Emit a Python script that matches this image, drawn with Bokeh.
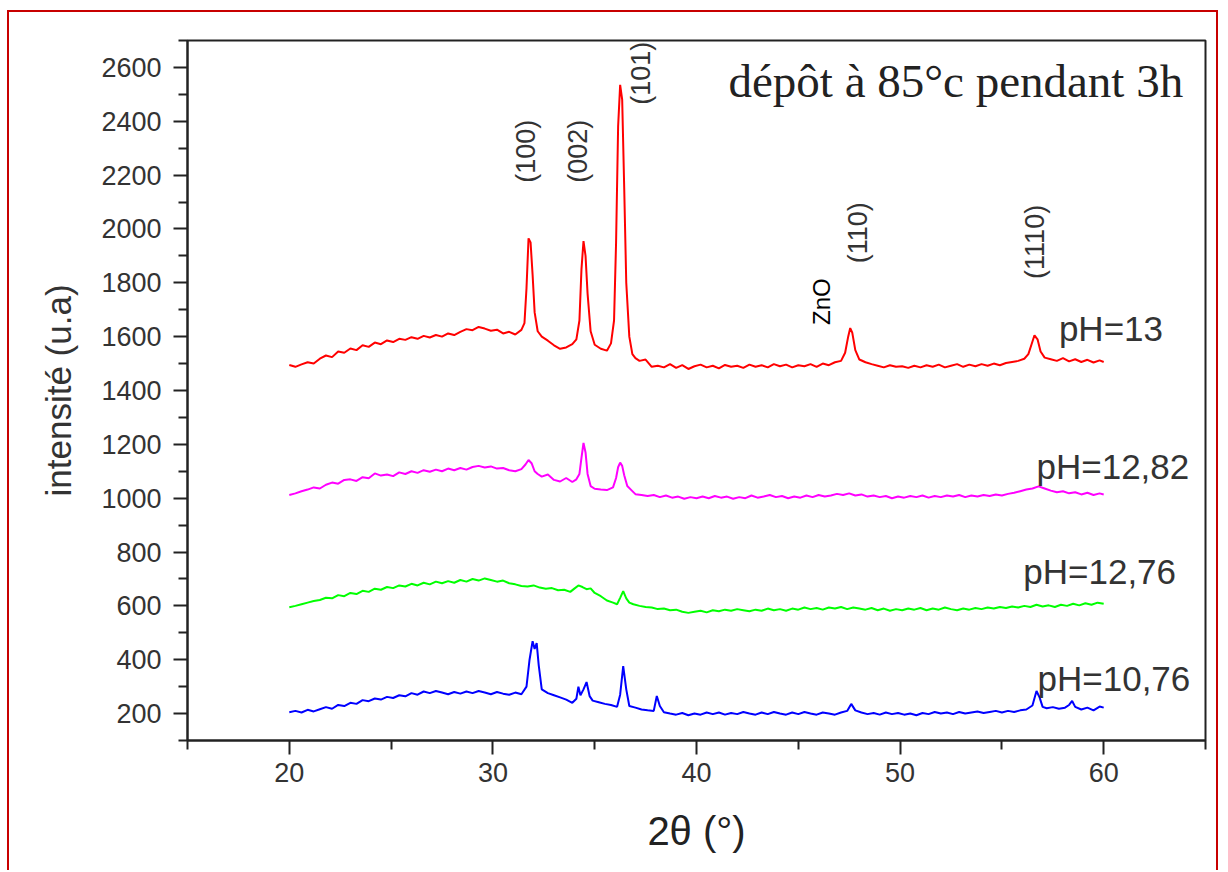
import math
from bokeh.plotting import figure
from bokeh.models import Range1d, FixedTicker, ColumnDataSource
from bokeh.core.properties import value
from bokeh.embed import file_html
from bokeh.resources import INLINE

# ---------------- data ----------------
ph13_x = [20.0, 20.3, 20.6, 20.9, 21.2, 21.5, 21.8, 22.1, 22.4, 22.7,
          23.0, 23.3, 23.6, 23.9, 24.2, 24.5, 24.8, 25.1, 25.4, 25.7,
          26.0, 26.3, 26.6, 26.9, 27.2, 27.5, 27.8, 28.1, 28.4, 28.7,
          29.0, 29.3, 29.6, 29.9, 30.2, 30.5, 30.8, 31.1, 31.4, 31.55,
          31.65, 31.75, 31.85, 31.95, 32.05, 32.2, 32.4, 32.7, 33.0, 33.3,
          33.6, 33.9, 34.1, 34.25, 34.35, 34.45, 34.55, 34.65, 34.8, 35.0,
          35.3, 35.6, 35.8, 35.95, 36.05, 36.15, 36.25, 36.35, 36.45, 36.55,
          36.7, 36.85, 37.0, 37.2, 37.5, 37.8, 38.1, 38.4, 38.7, 39.0,
          39.3, 39.6, 39.9, 40.2, 40.5, 40.8, 41.1, 41.4, 41.7, 42.0,
          42.3, 42.6, 42.9, 43.2, 43.5, 43.8, 44.1, 44.4, 44.7, 45.0,
          45.3, 45.6, 45.9, 46.2, 46.5, 46.8, 47.1, 47.3, 47.45, 47.55,
          47.65, 47.8, 48.0, 48.3, 48.6, 48.9, 49.2, 49.5, 49.8, 50.1,
          50.4, 50.7, 51.0, 51.3, 51.6, 51.9, 52.2, 52.5, 52.8, 53.1,
          53.4, 53.7, 54.0, 54.3, 54.6, 54.9, 55.2, 55.5, 55.8, 56.1,
          56.3, 56.45, 56.6, 56.75, 56.9, 57.1, 57.4, 57.7, 58.0, 58.3,
          58.6, 58.9, 59.2, 59.5, 59.8, 60.0]
ph13_y = [1495, 1488, 1497, 1505, 1500, 1518, 1530, 1524, 1545, 1540,
          1556, 1550, 1568, 1562, 1578, 1572, 1586, 1580, 1592, 1588,
          1598, 1592, 1603, 1597, 1606, 1600, 1612, 1606, 1618, 1628,
          1624, 1636, 1630, 1622, 1626, 1612, 1618, 1608, 1625, 1650,
          1780, 1965, 1950, 1830, 1690, 1620, 1600, 1585, 1568, 1555,
          1560, 1572, 1590, 1660, 1850, 1955, 1900, 1760, 1620, 1570,
          1555, 1548, 1575, 1660, 1950, 2380, 2535, 2480, 2150, 1800,
          1600, 1535, 1520, 1510, 1515, 1488, 1492, 1486, 1498, 1484,
          1494, 1480, 1490, 1496, 1486, 1492, 1482, 1495, 1488, 1492,
          1484, 1496, 1488, 1494, 1486, 1498, 1490, 1496, 1486, 1494,
          1490, 1498, 1488, 1500, 1494, 1505, 1510, 1540, 1600, 1632,
          1615, 1550, 1515, 1505, 1498, 1492, 1486, 1494, 1488, 1490,
          1484, 1492, 1486, 1494, 1488, 1496, 1486, 1492, 1498, 1488,
          1496, 1490, 1498, 1492, 1500, 1494, 1502, 1506, 1510, 1518,
          1535, 1570, 1605, 1590, 1545, 1522, 1516, 1510, 1520, 1508,
          1516, 1506, 1514, 1504, 1512, 1506]

ph1282_x = [20.0, 20.3, 20.6, 20.9, 21.2, 21.5, 21.8, 22.1, 22.4, 22.7,
            23.0, 23.3, 23.6, 23.9, 24.2, 24.5, 24.8, 25.1, 25.4, 25.7,
            26.0, 26.3, 26.6, 26.9, 27.2, 27.5, 27.8, 28.1, 28.4, 28.7,
            29.0, 29.3, 29.6, 29.9, 30.2, 30.5, 30.8, 31.1, 31.4, 31.6,
            31.75, 31.9, 32.05, 32.2, 32.4, 32.7, 33.0, 33.3, 33.6, 33.9,
            34.1, 34.25, 34.35, 34.45, 34.55, 34.65, 34.8, 35.0, 35.3, 35.6,
            35.9, 36.05, 36.15, 36.25, 36.35, 36.45, 36.6, 36.8, 37.0, 37.3,
            37.6, 37.9, 38.2, 38.5, 38.8, 39.1, 39.4, 39.7, 40.0, 40.3,
            40.6, 40.9, 41.2, 41.5, 41.8, 42.1, 42.4, 42.7, 43.0, 43.3,
            43.6, 43.9, 44.2, 44.5, 44.8, 45.1, 45.4, 45.7, 46.0, 46.3,
            46.6, 46.9, 47.2, 47.5, 47.8, 48.1, 48.4, 48.7, 49.0, 49.3,
            49.6, 49.9, 50.2, 50.5, 50.8, 51.1, 51.4, 51.7, 52.0, 52.3,
            52.6, 52.9, 53.2, 53.5, 53.8, 54.1, 54.4, 54.7, 55.0, 55.3,
            55.6, 55.9, 56.2, 56.5, 56.8, 57.1, 57.4, 57.7, 58.0, 58.3,
            58.6, 58.9, 59.2, 59.5, 59.8, 60.0]
ph1282_y = [1012, 1018, 1026, 1032, 1040, 1036, 1050, 1058, 1054, 1068,
            1070, 1064, 1078, 1074, 1092, 1084, 1088, 1082, 1096, 1090,
            1100, 1094, 1104, 1098, 1106, 1100, 1110, 1104, 1112, 1106,
            1116, 1120, 1114, 1118, 1110, 1112, 1104, 1100, 1108, 1125,
            1142, 1130, 1100, 1090, 1080, 1088, 1068, 1062, 1075, 1060,
            1070, 1090, 1150, 1205, 1170, 1090, 1045, 1035, 1032, 1030,
            1040, 1075, 1115, 1132, 1120, 1085, 1045, 1030, 1015, 1012,
            1008, 1012, 1004, 1010, 1002, 1006, 998, 1004, 1000, 1006,
            1000, 1008, 1002, 1006, 998, 1004, 1000, 1010, 1002, 1006,
            1012, 1004, 1008, 1000, 1006, 1002, 1010, 1004, 1012, 1006,
            1010, 1016, 1012, 1018, 1010, 1014, 1006, 1010, 1004, 1008,
            1000, 1006, 1002, 1008, 1004, 1010, 1002, 1008, 1004, 1010,
            1006, 1012, 1004, 1010, 1006, 1012, 1008, 1014, 1010, 1016,
            1020, 1026, 1032, 1036, 1044, 1036, 1028, 1022, 1026, 1018,
            1022, 1014, 1020, 1012, 1018, 1014]

ph1276_x = [20.0, 20.3, 20.6, 20.9, 21.2, 21.5, 21.8, 22.1, 22.4, 22.7,
            23.0, 23.3, 23.6, 23.9, 24.2, 24.5, 24.8, 25.1, 25.4, 25.7,
            26.0, 26.3, 26.6, 26.9, 27.2, 27.5, 27.8, 28.1, 28.4, 28.7,
            29.0, 29.3, 29.6, 29.9, 30.2, 30.5, 30.8, 31.1, 31.4, 31.7,
            32.0, 32.3, 32.6, 32.9, 33.2, 33.5, 33.8, 34.0, 34.2, 34.4,
            34.6, 34.8, 35.0, 35.3, 35.6, 35.9, 36.1, 36.25, 36.4, 36.55,
            36.7, 36.9, 37.2, 37.5, 37.8, 38.1, 38.4, 38.7, 39.0, 39.3,
            39.6, 39.9, 40.2, 40.5, 40.8, 41.1, 41.4, 41.7, 42.0, 42.3,
            42.6, 42.9, 43.2, 43.5, 43.8, 44.1, 44.4, 44.7, 45.0, 45.3,
            45.6, 45.9, 46.2, 46.5, 46.8, 47.1, 47.4, 47.7, 48.0, 48.3,
            48.6, 48.9, 49.2, 49.5, 49.8, 50.1, 50.4, 50.7, 51.0, 51.3,
            51.6, 51.9, 52.2, 52.5, 52.8, 53.1, 53.4, 53.7, 54.0, 54.3,
            54.6, 54.9, 55.2, 55.5, 55.8, 56.1, 56.4, 56.7, 57.0, 57.3,
            57.6, 57.9, 58.2, 58.5, 58.8, 59.1, 59.4, 59.7, 60.0]
ph1276_y = [595, 600, 606, 612, 618, 622, 630, 628, 640, 636,
            648, 644, 656, 652, 664, 660, 670, 666, 676, 672,
            682, 676, 686, 680, 690, 684, 692, 686, 696, 690,
            700, 694, 702, 696, 690, 694, 684, 680, 674, 672,
            676, 668, 664, 666, 658, 660, 652, 664, 676, 670,
            662, 665, 648, 636, 620, 612, 606, 630, 655, 628,
            612, 606, 600, 596, 594, 588, 590, 584, 586, 578,
            574, 578, 582, 576, 584, 580, 586, 582, 588, 584,
            580, 586, 582, 590, 584, 588, 582, 590, 586, 594,
            588, 592, 586, 594, 590, 596, 588, 594, 590, 586,
            592, 584, 590, 582, 588, 584, 590, 586, 592, 584,
            590, 586, 594, 588, 584, 590, 586, 592, 588, 594,
            590, 596, 592, 598, 594, 600, 596, 604, 598, 602,
            596, 604, 600, 608, 602, 610, 604, 612, 608]

ph1076_x = [20.0, 20.3, 20.6, 20.9, 21.2, 21.5, 21.8, 22.1, 22.4, 22.7,
            23.0, 23.3, 23.6, 23.9, 24.2, 24.5, 24.8, 25.1, 25.4, 25.7,
            26.0, 26.3, 26.6, 26.9, 27.2, 27.5, 27.8, 28.1, 28.4, 28.7,
            29.0, 29.3, 29.6, 29.9, 30.2, 30.5, 30.8, 31.1, 31.4, 31.65,
            31.8, 31.95, 32.05, 32.15, 32.25, 32.4, 32.7, 33.0, 33.3, 33.6,
            33.9, 34.1, 34.2, 34.3, 34.45, 34.6, 34.75, 34.9, 35.2, 35.5,
            35.8, 36.1, 36.25, 36.4, 36.55, 36.7, 37.0, 37.3, 37.6, 37.9,
            38.05, 38.2, 38.4, 38.7, 39.0, 39.3, 39.6, 39.9, 40.2, 40.5,
            40.8, 41.1, 41.4, 41.7, 42.0, 42.3, 42.6, 42.9, 43.2, 43.5,
            43.8, 44.1, 44.4, 44.7, 45.0, 45.3, 45.6, 45.9, 46.2, 46.5,
            46.8, 47.1, 47.4, 47.6, 47.8, 48.1, 48.4, 48.7, 49.0, 49.3,
            49.6, 49.9, 50.2, 50.5, 50.8, 51.1, 51.4, 51.7, 52.0, 52.3,
            52.6, 52.9, 53.2, 53.5, 53.8, 54.1, 54.4, 54.7, 55.0, 55.3,
            55.6, 55.9, 56.2, 56.5, 56.7, 56.85, 57.0, 57.2, 57.5, 57.8,
            58.1, 58.3, 58.45, 58.6, 58.9, 59.2, 59.5, 59.8, 60.0]
ph1076_y = [205, 210, 204, 214, 208, 216, 224, 218, 232, 228,
            240, 236, 250, 246, 256, 252, 262, 258, 268, 264,
            276, 270, 282, 276, 284, 278, 272, 280, 274, 282,
            276, 284, 278, 272, 280, 274, 270, 278, 272, 300,
            400, 469, 440, 462, 380, 290, 276, 268, 260, 252,
            240, 255, 300, 268, 290, 317, 265, 248, 242, 236,
            232, 225, 270, 376, 290, 228, 222, 215, 212, 210,
            265, 228, 205, 200, 196, 202, 194, 200, 196, 204,
            198, 204, 196, 202, 198, 206, 200, 196, 204, 198,
            206, 200, 196, 204, 198, 206, 200, 196, 204, 200,
            196, 204, 210, 236, 212, 204, 198, 202, 196, 204,
            198, 202, 196, 200, 194, 202, 198, 206, 200, 204,
            198, 206, 200, 204, 208, 202, 206, 210, 204, 210,
            206, 212, 215, 230, 284, 260, 225, 220, 224, 218,
            222, 232, 247, 225, 215, 222, 212, 226, 222]

x_major_ticks = [20, 30, 40, 50, 60]
x_minor_ticks = [15, 25, 35, 45, 55, 65]
y_major_ticks = [200, 400, 600, 800, 1000, 1200, 1400, 1600, 1800, 2000, 2200, 2400, 2600]
y_minor_ticks = [100, 300, 500, 700, 900, 1100, 1300, 1500, 1700, 1900, 2100, 2300, 2500, 2700]

series_labels = ["pH=13", "pH=12,82", "pH=12,76", "pH=10,76"]
peak_labels = ["(100)", "(002)", "(101)", "(110)", "(1110)"]

# ---------------- figure ----------------
p = figure(width=1211, height=860, output_backend="svg", toolbar_location=None,
           x_range=Range1d(15, 65), y_range=Range1d(100, 2700),
           min_border_left=178, min_border_top=28, min_border_right=15, min_border_bottom=132)
p.styles = {"border-top": "2px solid #c80000", "border-left": "2px solid #c80000",
            "border-right": "2px solid #c80000", "margin-left": "7px", "margin-top": "10px"}
p.background_fill_color = "white"
p.border_fill_color = "white"
p.grid.visible = False
p.outline_line_color = "#222222"
p.outline_line_width = 2

p.xaxis.ticker = FixedTicker(ticks=x_major_ticks, minor_ticks=x_minor_ticks)
p.yaxis.ticker = FixedTicker(ticks=y_major_ticks, minor_ticks=y_minor_ticks)
for ax in (p.xaxis[0], p.yaxis[0]):
    ax.axis_line_color = "#222222"
    ax.axis_line_width = 2
    ax.major_tick_line_color = "#222222"
    ax.major_tick_line_width = 2
    ax.minor_tick_line_color = "#222222"
    ax.minor_tick_line_width = 2
    ax.major_tick_out = 14
    ax.major_tick_in = 0
    ax.minor_tick_out = 9
    ax.minor_tick_in = 0
    ax.major_label_text_font = "Liberation Sans"
    ax.major_label_text_font_size = "27px"
    ax.major_label_text_color = "#333333"
    ax.axis_label_text_font = "Liberation Sans"
    ax.axis_label_text_font_style = "normal"
    ax.axis_label_text_color = "#333333"

p.yaxis.axis_label = "intensité (u.a)"
p.yaxis.axis_label_text_font_size = "35px"
p.yaxis.major_label_standoff = 12
p.yaxis.axis_label_standoff = 20
p.xaxis.axis_label = "2θ (°)"
p.xaxis.axis_label_text_font_size = "40px"
p.xaxis.axis_label_text_color = "#222222"
p.xaxis.major_label_standoff = 8
p.xaxis.axis_label_standoff = 24

p.line(ph13_x, ph13_y, line_color="#ff0000", line_width=2)
p.line(ph1282_x, ph1282_y, line_color="#ff00ff", line_width=2)
p.line(ph1276_x, ph1276_y, line_color="#00ff00", line_width=2)
p.line(ph1076_x, ph1076_y, line_color="#0000ff", line_width=2)

# series labels
lab_src = ColumnDataSource(dict(x=[57.8, 56.7, 56.05, 56.75], y=[1630, 1116, 728, 330], t=series_labels))
p.text(x="x", y="y", text="t", source=lab_src, text_font=value("Liberation Sans"),
       text_font_size="35px", text_color="#333333", text_align="left", text_baseline="middle")

# peak labels (rotated)
pk_src = ColumnDataSource(dict(x=[31.65, 34.16, 37.26, 47.92, 56.63],
                               y=[2289, 2289, 2578, 1986, 1952], t=peak_labels))
p.text(x="x", y="y", text="t", source=pk_src, angle=math.pi / 2, text_font=value("Liberation Sans"),
       text_font_size="27px", text_color="#333333", text_align="center", text_baseline="middle")

p.text(x=[46.16], y=[1730], text=["ZnO"], angle=math.pi / 2, text_font=value("Liberation Sans"),
       text_font_size="24px", text_color="#000000", text_align="center", text_baseline="middle")

p.text(x=[41.57], y=[2548], text=["dépôt à 85°c pendant 3h"], text_font=value("Liberation Serif"),
       text_font_size="47px", text_color="#222222", text_align="left", text_baseline="middle")

open("out.html", "w").write(file_html(p, INLINE))
